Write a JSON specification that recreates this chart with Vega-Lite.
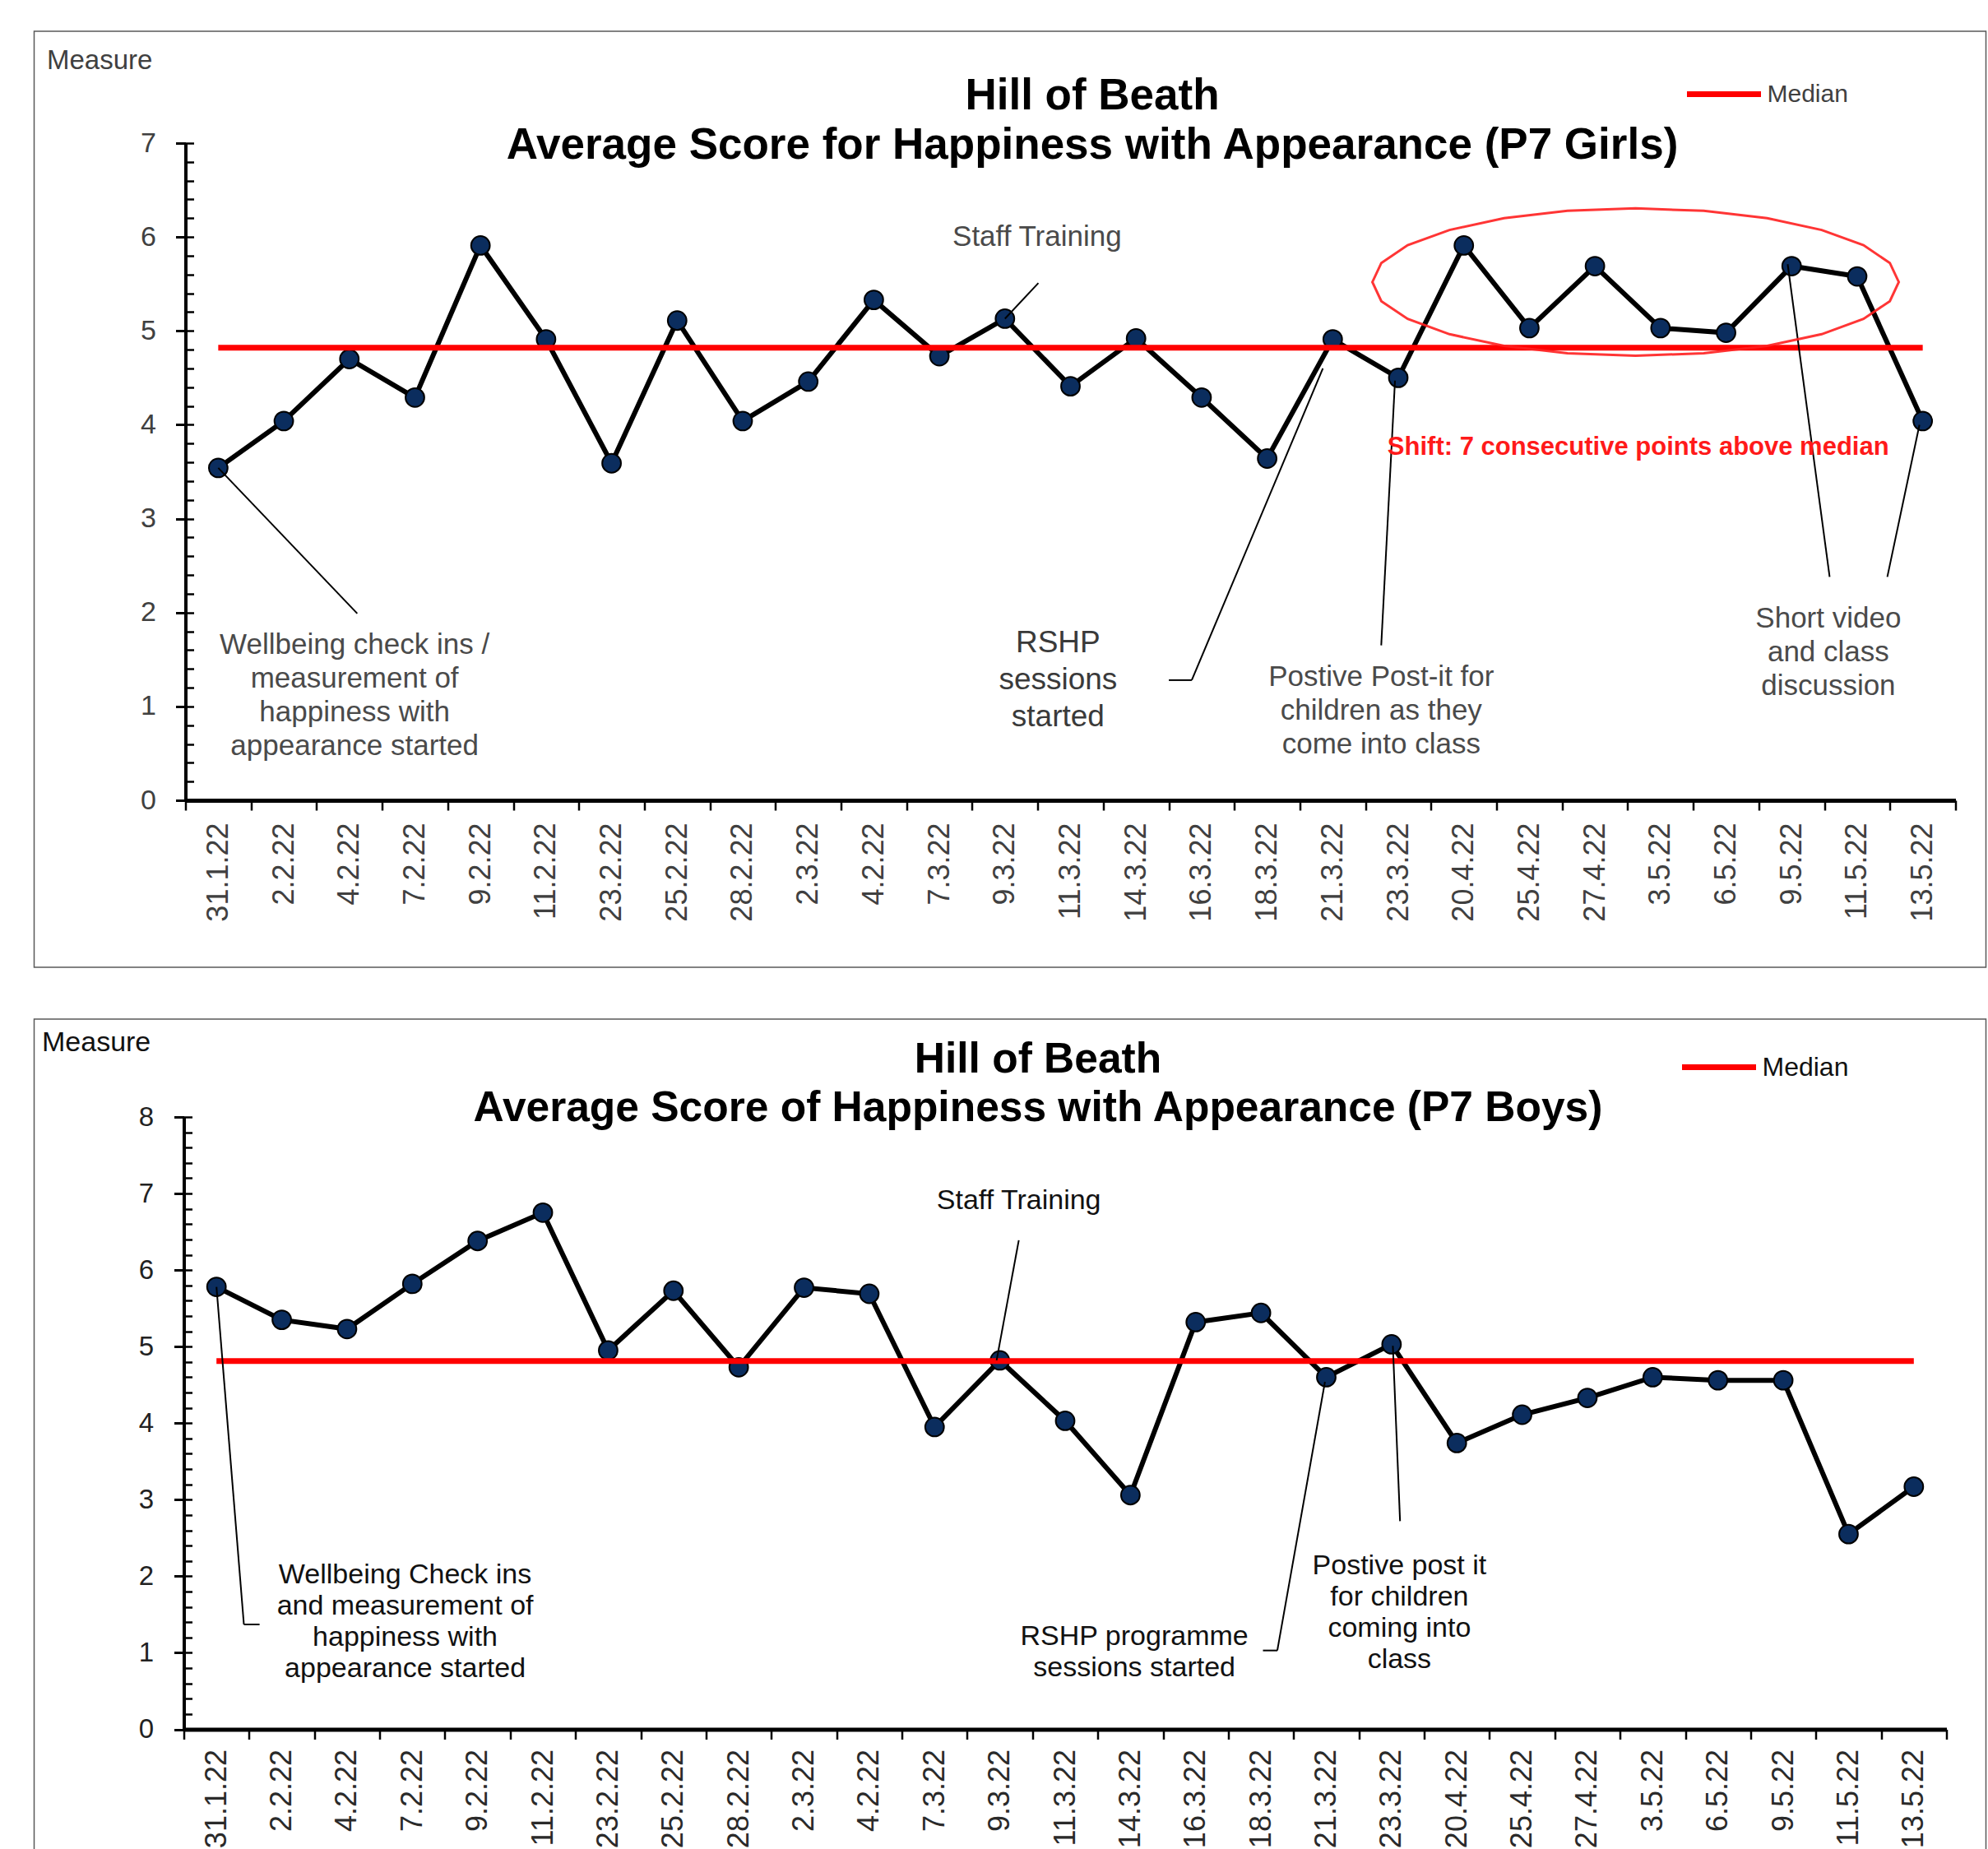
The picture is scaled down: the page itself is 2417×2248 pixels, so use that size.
{
  "$schema": "https://vega.github.io/schema/vega-lite/v6.json",
  "background": "white",
  "padding": {"left": 22.5, "top": 37, "right": 0, "bottom": 0},
  "spacing": 61,
  "config": {
    "font": "Liberation Sans",
    "view": {"stroke": "#595959", "strokeWidth": 1.5},
    "axis": {"grid": false}
  },
  "datasets": {
    "girls": [
      {"d": "31.1.22", "v": 3.54, "m": 4.82},
      {"d": "2.2.22", "v": 4.04, "m": 4.82},
      {"d": "4.2.22", "v": 4.70, "m": 4.82},
      {"d": "7.2.22", "v": 4.29, "m": 4.82},
      {"d": "9.2.22", "v": 5.91, "m": 4.82},
      {"d": "11.2.22", "v": 4.91, "m": 4.82},
      {"d": "23.2.22", "v": 3.59, "m": 4.82},
      {"d": "25.2.22", "v": 5.11, "m": 4.82},
      {"d": "28.2.22", "v": 4.04, "m": 4.82},
      {"d": "2.3.22", "v": 4.46, "m": 4.82},
      {"d": "4.2.22\u200b", "v": 5.33, "m": 4.82},
      {"d": "7.3.22", "v": 4.73, "m": 4.82},
      {"d": "9.3.22", "v": 5.13, "m": 4.82},
      {"d": "11.3.22", "v": 4.41, "m": 4.82},
      {"d": "14.3.22", "v": 4.92, "m": 4.82},
      {"d": "16.3.22", "v": 4.29, "m": 4.82},
      {"d": "18.3.22", "v": 3.64, "m": 4.82},
      {"d": "21.3.22", "v": 4.91, "m": 4.82},
      {"d": "23.3.22", "v": 4.50, "m": 4.82},
      {"d": "20.4.22", "v": 5.91, "m": 4.82},
      {"d": "25.4.22", "v": 5.03, "m": 4.82},
      {"d": "27.4.22", "v": 5.69, "m": 4.82},
      {"d": "3.5.22", "v": 5.03, "m": 4.82},
      {"d": "6.5.22", "v": 4.98, "m": 4.82},
      {"d": "9.5.22", "v": 5.69, "m": 4.82},
      {"d": "11.5.22", "v": 5.58, "m": 4.82},
      {"d": "13.5.22", "v": 4.04, "m": 4.82}
    ],
    "boys": [
      {"d": "31.1.22", "v": 5.78, "m": 4.81},
      {"d": "2.2.22", "v": 5.35, "m": 4.81},
      {"d": "4.2.22", "v": 5.23, "m": 4.81},
      {"d": "7.2.22", "v": 5.82, "m": 4.81},
      {"d": "9.2.22", "v": 6.38, "m": 4.81},
      {"d": "11.2.22", "v": 6.75, "m": 4.81},
      {"d": "23.2.22", "v": 4.95, "m": 4.81},
      {"d": "25.2.22", "v": 5.73, "m": 4.81},
      {"d": "28.2.22", "v": 4.73, "m": 4.81},
      {"d": "2.3.22", "v": 5.77, "m": 4.81},
      {"d": "4.2.22\u200b", "v": 5.69, "m": 4.81},
      {"d": "7.3.22", "v": 3.95, "m": 4.81},
      {"d": "9.3.22", "v": 4.82, "m": 4.81},
      {"d": "11.3.22", "v": 4.03, "m": 4.81},
      {"d": "14.3.22", "v": 3.06, "m": 4.81},
      {"d": "16.3.22", "v": 5.32, "m": 4.81},
      {"d": "18.3.22", "v": 5.44, "m": 4.81},
      {"d": "21.3.22", "v": 4.60, "m": 4.81},
      {"d": "23.3.22", "v": 5.03, "m": 4.81},
      {"d": "20.4.22", "v": 3.74, "m": 4.81},
      {"d": "25.4.22", "v": 4.11, "m": 4.81},
      {"d": "27.4.22", "v": 4.33, "m": 4.81},
      {"d": "3.5.22", "v": 4.60, "m": 4.81},
      {"d": "6.5.22", "v": 4.56, "m": 4.81},
      {"d": "9.5.22", "v": 4.56, "m": 4.81},
      {"d": "11.5.22", "v": 2.55, "m": 4.81},
      {"d": "13.5.22", "v": 3.17, "m": 4.81}
    ],
    "annG": [
      {"t": "Staff Training", "u": 12.99, "v": 6.0},
      {"t": "Wellbeing check ins /\nmeasurement of\nhappiness with\nappearance started", "u": 2.58, "v": 1.66},
      {"t": "RSHP\nsessions\nstarted", "u": 13.31, "v": 1.67},
      {"t": "Postive Post-it for\nchildren as they\ncome into class", "u": 18.24, "v": 1.31},
      {"t": "Short video\nand class\ndiscussion", "u": 25.06, "v": 1.94}
    ],
    "shiftG": [
      {"t": "Shift: 7 consecutive points above median", "u": 22.16, "v": 3.76}
    ],
    "ellG": [
      {"u": 22.12, "v": 5.52}
    ],
    "leadG": [
      {"u1": 0.5, "v1": 3.54, "u2": 2.62, "v2": 1.99},
      {"u1": 13.01, "v1": 5.51, "u2": 12.5, "v2": 5.13},
      {"u1": 15.0, "v1": 1.28, "u2": 15.35, "v2": 1.28},
      {"u1": 15.35, "v1": 1.28, "u2": 17.35, "v2": 4.6},
      {"u1": 18.24, "v1": 1.65, "u2": 18.45, "v2": 4.47},
      {"u1": 25.08, "v1": 2.38, "u2": 24.44, "v2": 5.71},
      {"u1": 25.96, "v1": 2.38, "u2": 26.45, "v2": 4.0}
    ],
    "annB": [
      {"t": "Staff Training", "u": 12.79, "v": 6.90},
      {"t": "Wellbeing Check ins\nand measurement of\nhappiness with\nappearance started", "u": 3.39, "v": 2.02},
      {"t": "RSHP programme\nsessions started", "u": 14.56, "v": 1.21},
      {"t": "Postive post it\nfor children\ncoming into\nclass", "u": 18.62, "v": 2.13}
    ],
    "leadB": [
      {"u1": 12.79, "v1": 6.39, "u2": 12.45, "v2": 4.82},
      {"u1": 0.5, "v1": 5.78, "u2": 0.92, "v2": 1.37},
      {"u1": 0.92, "v1": 1.37, "u2": 1.16, "v2": 1.37},
      {"u1": 16.53, "v1": 1.03, "u2": 16.75, "v2": 1.03},
      {"u1": 16.75, "v1": 1.03, "u2": 17.48, "v2": 4.54},
      {"u1": 18.63, "v1": 2.72, "u2": 18.52, "v2": 5.01}
    ]
  },
  "resolve": {
    "scale": {"x": "independent", "y": "independent", "color": "independent"},
    "axis": {"x": "independent", "y": "independent"},
    "legend": {"color": "independent"}
  },
  "vconcat": [
    {
      "width": 2373,
      "height": 1138,
      "title": {
        "text": ["Hill of Beath", "Average Score for Happiness with Appearance (P7 Girls)"],
        "fontSize": 53, "fontWeight": "bold", "color": "black", "font": "Liberation Sans",
        "anchor": "middle", "frame": "group", "baseline": "bottom",
        "offset": -219, "dx": 100, "lineHeight": 60
      },
      "resolve": {"scale": {"x": "independent"}, "axis": {"x": "independent", "y": "independent"}},
      "layer": [
        {
          "data": {"name": "girls"},
          "resolve": {"axis": {"y": "independent"}},
          "encoding": {
            "x": {"field": "d", "type": "ordinal", "sort": null,
              "scale": {"type": "band", "range": [184, 2336], "paddingInner": 0, "paddingOuter": 0},
              "axis": {"orient": "bottom", "offset": -203, "title": null, "labelAngle": -90,
                "labelFontSize": 36, "labelColor": "#404040", "labelPadding": 15,
                "tickSize": 12, "tickWidth": 2.5, "tickColor": "black", "tickBand": "extent",
                "domainWidth": 5, "domainColor": "black"}}
          },
          "layer": [
            {
              "mark": {"type": "line", "color": "black", "strokeWidth": 6},
              "encoding": {
                "y": {"field": "v", "type": "quantitative",
                  "scale": {"domain": [0, 7], "range": [935, 136], "nice": false, "zero": false},
                  "axis": {"orient": "left", "offset": -184, "values": [0, 1, 2, 3, 4, 5, 6, 7],
                    "tickSize": 12, "tickWidth": 3, "tickColor": "black", "domainWidth": 4, "domainColor": "black",
                    "labelFontSize": 34, "labelColor": "#404040", "labelPadding": 24,
                    "title": "Measure", "titleAngle": 0, "titleX": -169, "titleY": 35,
                    "titleAlign": "left", "titleBaseline": "middle", "titleFontSize": 33,
                    "titleFontWeight": "normal", "titleColor": "#404040"}}
              }
            },
            {
              "mark": {"type": "point", "filled": true, "fill": "#0b2d5e", "stroke": "black", "strokeWidth": 2, "size": 520, "opacity": 1},
              "encoding": {
                "y": {"field": "v", "type": "quantitative",
                  "scale": {"domain": [0, 7], "range": [935, 136], "nice": false, "zero": false},
                  "axis": {"orient": "left", "offset": -184,
                    "values": [0,0.2,0.4,0.6,0.8,1,1.2,1.4,1.6,1.8,2,2.2,2.4,2.6,2.8,3,3.2,3.4,3.6,3.8,4,4.2,4.4,4.6,4.8,5,5.2,5.4,5.6,5.8,6,6.2,6.4,6.6,6.8,7],
                    "tickSize": -10, "tickWidth": 2.5, "tickColor": "black", "labels": false, "domain": false, "title": null}}
              }
            },
            {
              "mark": {"type": "line", "strokeWidth": 7},
              "encoding": {
                "y": {"field": "m", "type": "quantitative",
                  "scale": {"domain": [0, 7], "range": [935, 136], "nice": false, "zero": false}, "axis": null},
                "color": {"datum": "Median", "type": "nominal", "scale": {"range": ["#ff0000"]},
                  "legend": {"title": null, "orient": "none", "legendX": 2006, "legendY": 28, "padding": 0,
                    "symbolType": "stroke", "symbolSize": 8100, "symbolStrokeWidth": 7,
                    "labelFontSize": 30, "labelColor": "#404040", "labelOffset": 4}}
              }
            }
          ]
        },
        {
          "data": {"name": "leadG"},
          "mark": {"type": "rule", "color": "black", "strokeWidth": 2},
          "encoding": {
            "x": {"field": "u1", "type": "quantitative", "scale": {"domain": [0, 27], "range": [184, 2336], "nice": false, "zero": false}, "axis": null},
            "x2": {"field": "u2"},
            "y": {"field": "v1", "type": "quantitative", "scale": {"domain": [0, 7], "range": [935, 136], "nice": false, "zero": false}, "axis": null},
            "y2": {"field": "v2"}
          }
        },
        {
          "data": {"name": "ellG"},
          "mark": {"type": "point", "shape": "M 1 0 L 0.966 0.0725 L 0.866 0.14 L 0.707 0.198 L 0.5 0.2425 L 0.259 0.2705 L 0 0.28 L -0.259 0.2705 L -0.5 0.2425 L -0.707 0.198 L -0.866 0.14 L -0.966 0.0725 L -1 0 L -0.966 -0.0725 L -0.866 -0.14 L -0.707 -0.198 L -0.5 -0.2425 L -0.259 -0.2705 L 0 -0.28 L 0.259 -0.2705 L 0.5 -0.2425 L 0.707 -0.198 L 0.866 -0.14 L 0.966 -0.0725 Z",
            "size": 409600, "filled": false, "stroke": "#ff2020", "strokeWidth": 3, "opacity": 0.9},
          "encoding": {
            "x": {"field": "u", "type": "quantitative", "scale": {"domain": [0, 27], "range": [184, 2336], "nice": false, "zero": false}, "axis": null},
            "y": {"field": "v", "type": "quantitative", "scale": {"domain": [0, 7], "range": [935, 136], "nice": false, "zero": false}, "axis": null}
          }
        },
        {
          "data": {"name": "annG"},
          "transform": [{"filter": "indexof(datum.t, 'RSHP') != 0"}],
          "mark": {"type": "text", "fontSize": 35, "lineHeight": 41, "lineBreak": "\n", "align": "center", "baseline": "middle", "color": "#4a4a4a"},
          "encoding": {
            "x": {"field": "u", "type": "quantitative", "scale": {"domain": [0, 27], "range": [184, 2336], "nice": false, "zero": false}, "axis": null},
            "y": {"field": "v", "type": "quantitative", "scale": {"domain": [0, 7], "range": [935, 136], "nice": false, "zero": false}, "axis": null},
            "text": {"field": "t"}
          }
        },
        {
          "data": {"name": "annG"},
          "transform": [{"filter": "indexof(datum.t, 'RSHP') == 0"}],
          "mark": {"type": "text", "fontSize": 37, "lineHeight": 45, "lineBreak": "\n", "align": "center", "baseline": "middle", "color": "#3a3a3a"},
          "encoding": {
            "x": {"field": "u", "type": "quantitative", "scale": {"domain": [0, 27], "range": [184, 2336], "nice": false, "zero": false}, "axis": null},
            "y": {"field": "v", "type": "quantitative", "scale": {"domain": [0, 7], "range": [935, 136], "nice": false, "zero": false}, "axis": null},
            "text": {"field": "t"}
          }
        },
        {
          "data": {"name": "shiftG"},
          "mark": {"type": "text", "fontSize": 31, "fontWeight": "bold", "align": "center", "baseline": "middle", "color": "#ff1a1a"},
          "encoding": {
            "x": {"field": "u", "type": "quantitative", "scale": {"domain": [0, 27], "range": [184, 2336], "nice": false, "zero": false}, "axis": null},
            "y": {"field": "v", "type": "quantitative", "scale": {"domain": [0, 7], "range": [935, 136], "nice": false, "zero": false}, "axis": null},
            "text": {"field": "t"}
          }
        }
      ]
    },
    {
      "width": 2373,
      "height": 1011,
      "title": {
        "text": ["Hill of Beath", "Average Score of Happiness with Appearance (P7 Boys)"],
        "fontSize": 51.5, "fontWeight": "bold", "color": "black", "font": "Liberation Sans",
        "anchor": "middle", "frame": "group", "baseline": "bottom",
        "offset": -186, "dx": 34, "lineHeight": 59
      },
      "resolve": {"scale": {"x": "independent"}, "axis": {"x": "independent", "y": "independent"}},
      "layer": [
        {
          "data": {"name": "boys"},
          "resolve": {"axis": {"y": "independent"}},
          "encoding": {
            "x": {"field": "d", "type": "ordinal", "sort": null,
              "scale": {"type": "band", "range": [182, 2325], "paddingInner": 0, "paddingOuter": 0},
              "axis": {"orient": "bottom", "offset": -147.5, "title": null, "labelAngle": -90,
                "labelFontSize": 36, "labelColor": "#2a2a2a", "labelPadding": 12,
                "tickSize": 12, "tickWidth": 2.5, "tickColor": "black", "tickBand": "extent",
                "domainWidth": 5, "domainColor": "black"}}
          },
          "layer": [
            {
              "mark": {"type": "line", "color": "black", "strokeWidth": 6},
              "encoding": {
                "y": {"field": "v", "type": "quantitative",
                  "scale": {"domain": [0, 8], "range": [863.5, 119], "nice": false, "zero": false},
                  "axis": {"orient": "left", "offset": -182, "values": [0, 1, 2, 3, 4, 5, 6, 7, 8],
                    "tickSize": 12, "tickWidth": 3, "tickColor": "black", "domainWidth": 4, "domainColor": "black",
                    "labelFontSize": 33, "labelColor": "#222222", "labelPadding": 25,
                    "title": "Measure", "titleAngle": 0, "titleX": -173, "titleY": 28,
                    "titleAlign": "left", "titleBaseline": "middle", "titleFontSize": 34,
                    "titleFontWeight": "normal", "titleColor": "#111111"}}
              }
            },
            {
              "mark": {"type": "point", "filled": true, "fill": "#0b2d5e", "stroke": "black", "strokeWidth": 2, "size": 520, "opacity": 1},
              "encoding": {
                "y": {"field": "v", "type": "quantitative",
                  "scale": {"domain": [0, 8], "range": [863.5, 119], "nice": false, "zero": false},
                  "axis": {"orient": "left", "offset": -182,
                    "values": [0,0.2,0.4,0.6,0.8,1,1.2,1.4,1.6,1.8,2,2.2,2.4,2.6,2.8,3,3.2,3.4,3.6,3.8,4,4.2,4.4,4.6,4.8,5,5.2,5.4,5.6,5.8,6,6.2,6.4,6.6,6.8,7,7.2,7.4,7.6,7.8,8],
                    "tickSize": -10, "tickWidth": 2.5, "tickColor": "black", "labels": false, "domain": false, "title": null}}
              }
            },
            {
              "mark": {"type": "line", "strokeWidth": 7},
              "encoding": {
                "y": {"field": "m", "type": "quantitative",
                  "scale": {"domain": [0, 8], "range": [863.5, 119], "nice": false, "zero": false}, "axis": null},
                "color": {"datum": "Median", "type": "nominal", "scale": {"range": ["#ff0000"]},
                  "legend": {"title": null, "orient": "none", "legendX": 2000, "legendY": 10, "padding": 0,
                    "symbolType": "stroke", "symbolSize": 8100, "symbolStrokeWidth": 7,
                    "labelFontSize": 32, "labelColor": "#111111", "labelOffset": 4}}
              }
            }
          ]
        },
        {
          "data": {"name": "leadB"},
          "mark": {"type": "rule", "color": "black", "strokeWidth": 2},
          "encoding": {
            "x": {"field": "u1", "type": "quantitative", "scale": {"domain": [0, 27], "range": [182, 2325], "nice": false, "zero": false}, "axis": null},
            "x2": {"field": "u2"},
            "y": {"field": "v1", "type": "quantitative", "scale": {"domain": [0, 8], "range": [863.5, 119], "nice": false, "zero": false}, "axis": null},
            "y2": {"field": "v2"}
          }
        },
        {
          "data": {"name": "annB"},
          "mark": {"type": "text", "fontSize": 34, "lineHeight": 38, "lineBreak": "\n", "align": "center", "baseline": "middle", "color": "#111111"},
          "encoding": {
            "x": {"field": "u", "type": "quantitative", "scale": {"domain": [0, 27], "range": [182, 2325], "nice": false, "zero": false}, "axis": null},
            "y": {"field": "v", "type": "quantitative", "scale": {"domain": [0, 8], "range": [863.5, 119], "nice": false, "zero": false}, "axis": null},
            "text": {"field": "t"}
          }
        }
      ]
    }
  ]
}
